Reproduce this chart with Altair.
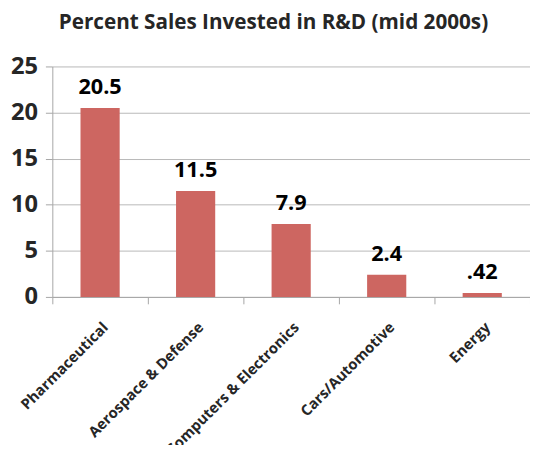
import altair as alt
import pandas as pd

categories = ["Pharmaceutical", "Aerospace & Defense", "Computers & Electronics", "Cars/Automotive", "Energy"]
values = [20.5, 11.5, 7.9, 2.4, 0.42]
labels = ["20.5", "11.5", "7.9", "2.4", ".42"]
y_ticks = [0, 5, 10, 15, 20, 25]

df = pd.DataFrame({"category": categories, "value": values, "label": labels})

FONT = "Open Sans"
AX = "#A6A6A6"

x = alt.X(
    "category:N",
    sort=None,
    scale=alt.Scale(paddingInner=0, paddingOuter=0),
    axis=alt.Axis(
        title=None,
        labelAngle=-45,
        labelAlign="right",
        labelBaseline="top",
        labelFont=FONT,
        labelFontSize=15,
        labelFontWeight="bold",
        labelColor="#262626",
        labelPadding=16,
        labelOffset=0,
        labelLimit=0,
        tickBand="extent",
        tickSize=7,
        tickColor=AX,
        domainColor=AX,
        grid=False,
        labelOverlap=False,
    ),
)

y = alt.Y(
    "value:Q",
    scale=alt.Scale(domain=[0, 25], nice=False),
    axis=alt.Axis(
        title=None,
        values=y_ticks,
        labelFont=FONT,
        labelFontSize=24,
        labelFontWeight="bold",
        labelColor="#262626",
        labelPadding=8,
        tickSize=7,
        tickColor=AX,
        domainColor=AX,
        gridColor="#B8B8B8",
        grid=True,
    ),
)

bars = alt.Chart(df).mark_bar(color="#CD6661", width=alt.RelativeBandSize(0.41)).encode(x=x, y=y)
text = alt.Chart(df).mark_text(
    dy=-14, baseline="alphabetic", font=FONT, fontSize=22, fontWeight="bold", color="#000000"
).encode(x=alt.X("category:N", sort=None), y="value:Q", text="label:N")

chart = (
    alt.layer(bars, text)
    .properties(
        width=485,
        height=234,
        title=alt.TitleParams(
            "Percent Sales Invested in R&D (mid 2000s)",
            font=FONT,
            fontSize=21,
            fontWeight="bold",
            color="#262626",
            anchor="middle",
            baseline="alphabetic",
            offset=5,
            dx=-18,
        ),
        autosize=alt.AutoSizeParams(type="none"),
        padding={"left": 45, "top": 56, "right": 0, "bottom": 147},
    )
    .configure_view(stroke=None)
)

chart.save("out.html", embed_options={"renderer": "svg", "actions": False})
